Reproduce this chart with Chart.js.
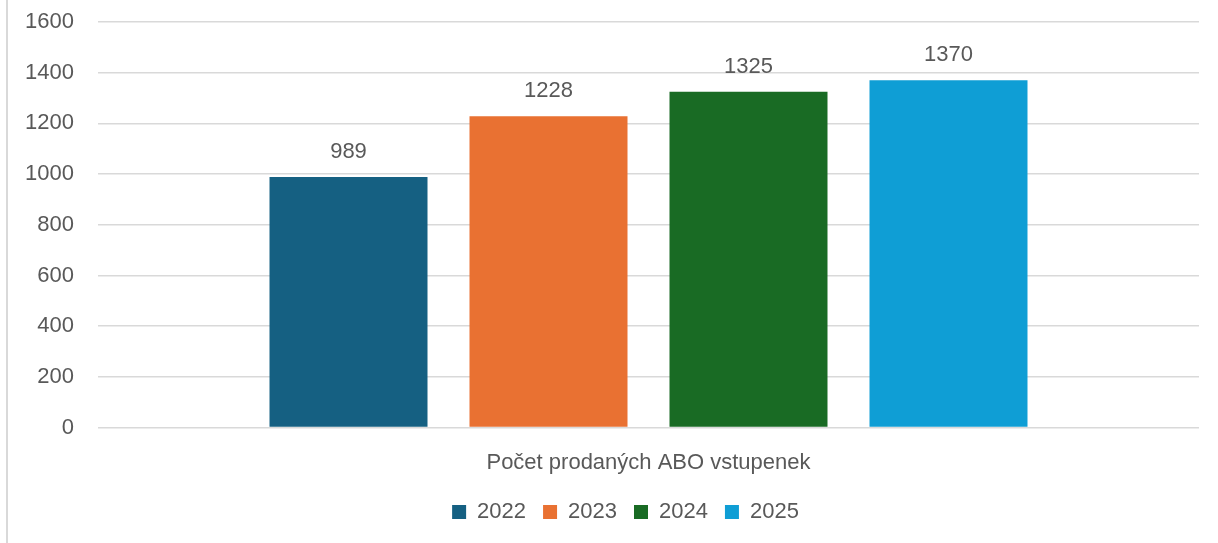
<!DOCTYPE html>
<html>
<head>
<meta charset="utf-8">
<script src="https://cdn.jsdelivr.net/npm/chart.js@4.4.1/dist/chart.umd.min.js"></script>
<style>
  html, body { margin: 0; padding: 0; background: #fff; }
  .wrap { position: relative; width: 1218px; height: 543px; }
  .edge { position: absolute; left: 6px; top: 0; width: 2px; height: 543px; background: #d9d9d9; }
  canvas { position: absolute; left: 0; top: 0; }
</style>
</head>
<body>
<div class="wrap">
  <div class="edge"></div>
  <canvas id="myChart" width="1218" height="543"></canvas>
</div>
<script>
// data
var categories = ['Počet prodaných ABO vstupenek'];
var years = ['2022', '2023', '2024', '2025'];
var sold = [989, 1228, 1325, 1370];
var colors = ['#156082', '#e97132', '#196b24', '#0f9ed5'];

var fontFamily = 'Arial, "Liberation Sans", sans-serif';
var textColor = '#595959';

// value above each bar
var barLabels = {
    id: 'barLabels',
    afterDatasetsDraw: function (chart) {
        var ctx = chart.ctx;
        ctx.save();
        ctx.font = '22px ' + fontFamily;
        ctx.fillStyle = textColor;
        ctx.textAlign = 'center';
        ctx.textBaseline = 'middle';
        chart.data.datasets.forEach(function (ds, i) {
            var meta = chart.getDatasetMeta(i);
            meta.data.forEach(function (bar, j) {
                ctx.fillText(ds.data[j], bar.x, bar.y - 25);
            });
        });
        ctx.restore();
    }
};

// legend sits centred under the plot, a bit right of the canvas middle
var legendShift = {
    id: 'legendShift',
    afterLayout: function (chart) {
        chart.legend.left += 26;
        chart.legend.right += 26;
    }
};

var datasets = [];
for (var i = 0; i < years.length; i++) {
    datasets.push({
        label: years[i],
        data: [sold[i]],
        backgroundColor: colors[i],
        borderWidth: 0,
        categoryPercentage: 0.7266,
        barPercentage: 0.79
    });
}

const ctx = document.getElementById('myChart').getContext('2d');
const myChart = new Chart(ctx, {
    type: 'bar',
    data: {
        labels: categories,
        datasets: datasets
    },
    options: {
        responsive: false,
        animation: false,
        layout: {
            padding: { left: 0, right: 19, top: 22, bottom: 10 }
        },
        plugins: {
            legend: {
                position: 'bottom',
                labels: {
                    boxWidth: 14,
                    boxHeight: 14,
                    padding: 17,
                    color: textColor,
                    font: { family: fontFamily, size: 22 }
                }
            },
            tooltip: { enabled: false }
        },
        scales: {
            x: {
                grid: { display: false },
                border: { display: false },
                ticks: {
                    color: textColor,
                    padding: 14,
                    font: { family: fontFamily, size: 22 }
                },
                afterFit: function (axis) {
                    axis.height -= 6;
                }
            },
            y: {
                min: 0,
                max: 1600,
                border: { display: false },
                grid: { color: '#d9d9d9', lineWidth: 1.5, drawTicks: false },
                ticks: {
                    stepSize: 200,
                    padding: 24,
                    color: textColor,
                    font: { family: fontFamily, size: 22 },
                    callback: function (v) { return String(v); }
                },
                afterFit: function (axis) {
                    axis.width = 98;
                    axis.paddingTop = 0;
                }
            }
        }
    },
    plugins: [barLabels, legendShift]
});
</script>
</body>
</html>
